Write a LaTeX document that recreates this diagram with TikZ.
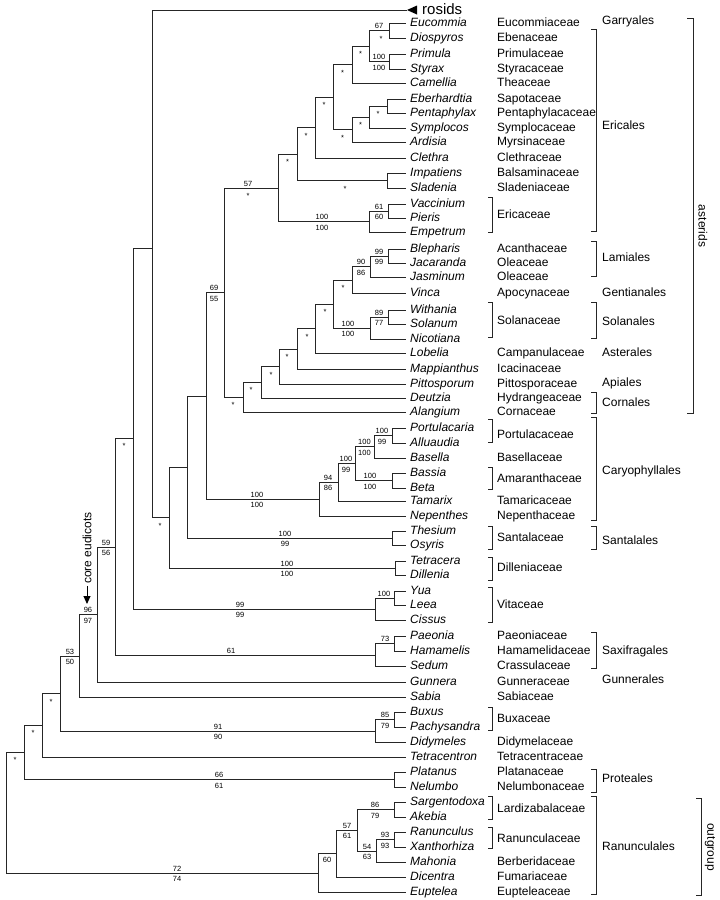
\documentclass[tikz,border=0pt]{standalone}
\usepackage{fontspec}
\setmainfont{Liberation Sans}
\usetikzlibrary{arrows.meta}
\tikzset{
    limb/.style={line width=0.9pt,black!85},
    taxon/.style={anchor=west,inner sep=0pt,inner xsep=4pt,text height=8.6pt,text depth=2.5pt,font=\fontsize{12}{14}\selectfont\itshape},
    fam/.style={anchor=west,inner sep=0pt,text height=8.6pt,text depth=2.5pt,font=\fontsize{12}{14}\selectfont},
    ordname/.style={anchor=west,inner sep=0pt,text height=8.6pt,text depth=2.5pt,font=\fontsize{12}{14}\selectfont},
    bs/.style={inner sep=0pt,font=\fontsize{7.5}{8}\selectfont},
}
\begin{document}
\begin{tikzpicture}[x=1pt,y=-1pt]
                        \useasboundingbox (0,0) rectangle (720,900);

                        \node[taxon] (eucommia) at (406,23) {Eucommia};
                        \node[taxon] (diospyros) at (406,38) {Diospyros};
                        \node[taxon] (primula) at (406,54) {Primula};
                        \node[taxon] (styrax) at (406,69) {Styrax};
                        \node[taxon] (camellia) at (406,83) {Camellia};
                        \node[taxon] (eberhardtia) at (406,99) {Eberhardtia};
                        \node[taxon] (pentaphylax) at (406,113) {Pentaphylax};
                        \node[taxon] (symplocos) at (406,128) {Symplocos};
                        \node[taxon] (ardisia) at (406,142) {Ardisia};
                        \node[taxon] (clethra) at (406,158) {Clethra};
                        \node[taxon] (impatiens) at (406,173) {Impatiens};
                        \node[taxon] (sladenia) at (406,188) {Sladenia};
                        \node[taxon] (vaccinium) at (406,204) {Vaccinium};
                        \node[taxon] (pieris) at (406,218) {Pieris};
                        \node[taxon] (empetrum) at (406,232) {Empetrum};
                        \node[taxon] (blepharis) at (406,249) {Blepharis};
                        \node[taxon] (jacaranda) at (406,263) {Jacaranda};
                        \node[taxon] (jasminum) at (406,277) {Jasminum};
                        \node[taxon] (vinca) at (406,293) {Vinca};
                        \node[taxon] (withania) at (406,310) {Withania};
                        \node[taxon] (solanum) at (406,324) {Solanum};
                        \node[taxon] (nicotiana) at (406,339) {Nicotiana};
                        \node[taxon] (lobelia) at (406,353) {Lobelia};
                        \node[taxon] (mappianthus) at (406,369) {Mappianthus};
                        \node[taxon] (pittosporum) at (406,384) {Pittosporum};
                        \node[taxon] (deutzia) at (406,398) {Deutzia};
                        \node[taxon] (alangium) at (406,412) {Alangium};
                        \node[taxon] (portulacaria) at (406,428) {Portulacaria};
                        \node[taxon] (alluaudia) at (406,443) {Alluaudia};
                        \node[taxon] (basella) at (406,458) {Basella};
                        \node[taxon] (bassia) at (406,473) {Bassia};
                        \node[taxon] (beta) at (406,488) {Beta};
                        \node[taxon] (tamarix) at (406,501) {Tamarix};
                        \node[taxon] (nepenthes) at (406,516) {Nepenthes};
                        \node[taxon] (thesium) at (406,531) {Thesium};
                        \node[taxon] (osyris) at (406,545) {Osyris};
                        \node[taxon] (tetracera) at (406,561) {Tetracera};
                        \node[taxon] (dillenia) at (406,575) {Dillenia};
                        \node[taxon] (yua) at (406,591) {Yua};
                        \node[taxon] (leea) at (406,605) {Leea};
                        \node[taxon] (cissus) at (406,620) {Cissus};
                        \node[taxon] (paeonia) at (406,636) {Paeonia};
                        \node[taxon] (hamamelis) at (406,651) {Hamamelis};
                        \node[taxon] (sedum) at (406,666) {Sedum};
                        \node[taxon] (gunnera) at (406,682) {Gunnera};
                        \node[taxon] (sabia) at (406,697) {Sabia};
                        \node[taxon] (buxus) at (406,712) {Buxus};
                        \node[taxon] (pachysandra) at (406,727) {Pachysandra};
                        \node[taxon] (didymeles) at (406,742) {Didymeles};
                        \node[taxon] (tetracentron) at (406,757) {Tetracentron};
                        \node[taxon] (platanus) at (406,772) {Platanus};
                        \node[taxon] (nelumbo) at (406,787) {Nelumbo};
                        \node[taxon] (sargentodoxa) at (406,802) {Sargentodoxa};
                        \node[taxon] (akebia) at (406,817) {Akebia};
                        \node[taxon] (ranunculus) at (406,832) {Ranunculus};
                        \node[taxon] (xanthorhiza) at (406,847) {Xanthorhiza};
                        \node[taxon] (mahonia) at (406,862) {Mahonia};
                        \node[taxon] (dicentra) at (406,877) {Dicentra};
                        \node[taxon] (euptelea) at (406,892) {Euptelea};

                        \coordinate (rosids) at (407,10);
                        \coordinate (n1) at (389,30.5);
                        \coordinate (n2) at (389,61.5);
                        \coordinate (n3) at (369,46);
                        \coordinate (n4) at (352,64.5);
                        \coordinate (n5) at (387,106);
                        \coordinate (n6) at (369,117);
                        \coordinate (n7) at (352,129.5);
                        \coordinate (n8) at (333,97);
                        \coordinate (n9) at (315,127.5);
                        \coordinate (n10) at (387,180.5);
                        \coordinate (n11) at (297,154);
                        \coordinate (n12) at (388,211);
                        \coordinate (n13) at (369,221.5);
                        \coordinate (n14) at (278,188);
                        \coordinate (n15) at (388,256);
                        \coordinate (n16) at (370,266.5);
                        \coordinate (n17) at (352,280);
                        \coordinate (n18) at (388,317);
                        \coordinate (n19) at (370,328);
                        \coordinate (n20) at (333,304);
                        \coordinate (n21) at (315,328.5);
                        \coordinate (n22) at (297,349);
                        \coordinate (n23) at (279,366.5);
                        \coordinate (n24) at (261,382);
                        \coordinate (n25) at (243,397);
                        \coordinate (n30) at (224,292.5);
                        \coordinate (c1) at (392,435.5);
                        \coordinate (c2) at (374,446.75);
                        \coordinate (c3) at (355,463.6);
                        \coordinate (c4) at (392,480.5);
                        \coordinate (c5) at (338,482.3);
                        \coordinate (c6) at (319,499);
                        \coordinate (n31) at (206,396);
                        \coordinate (s1) at (392,538);
                        \coordinate (n32) at (187,467);
                        \coordinate (d1) at (395,568);
                        \coordinate (n33) at (169,517.5);
                        \coordinate (n34) at (152,248);
                        \coordinate (v1) at (394,598);
                        \coordinate (v2) at (375,609);
                        \coordinate (n35) at (133,438);
                        \coordinate (x1) at (394,643.5);
                        \coordinate (x2) at (375,655);
                        \coordinate (n36) at (115,547);
                        \coordinate (n37) at (97,614.5);
                        \coordinate (n38) at (79,656);
                        \coordinate (b1) at (394,719.5);
                        \coordinate (b2) at (375,731);
                        \coordinate (n39) at (60,693.5);
                        \coordinate (n40) at (42,725);
                        \coordinate (p1) at (394,779.5);
                        \coordinate (n41) at (24,752);
                        \coordinate (r1) at (394,809.5);
                        \coordinate (r3) at (394,839.5);
                        \coordinate (r4) at (376,851);
                        \coordinate (r2) at (357,830);
                        \coordinate (r5) at (336,853.5);
                        \coordinate (r6) at (318,873);
                        \coordinate (root) at (6,812.5);

                        \draw[limb] (n1) |- (eucommia.west);
                        \draw[limb] (n1) |- (diospyros.west);
                        \draw[limb] (n2) |- (primula.west);
                        \draw[limb] (n2) |- (styrax.west);
                        \draw[limb] (n3) |- (n1);
                        \draw[limb] (n3) |- (n2);
                        \draw[limb] (n4) |- (n3);
                        \draw[limb] (n4) |- (camellia.west);
                        \draw[limb] (n5) |- (eberhardtia.west);
                        \draw[limb] (n5) |- (pentaphylax.west);
                        \draw[limb] (n6) |- (n5);
                        \draw[limb] (n6) |- (symplocos.west);
                        \draw[limb] (n7) |- (n6);
                        \draw[limb] (n7) |- (ardisia.west);
                        \draw[limb] (n8) |- (n4);
                        \draw[limb] (n8) |- (n7);
                        \draw[limb] (n9) |- (n8);
                        \draw[limb] (n9) |- (clethra.west);
                        \draw[limb] (n10) |- (impatiens.west);
                        \draw[limb] (n10) |- (sladenia.west);
                        \draw[limb] (n11) |- (n9);
                        \draw[limb] (n11) |- (n10);
                        \draw[limb] (n12) |- (vaccinium.west);
                        \draw[limb] (n12) |- (pieris.west);
                        \draw[limb] (n13) |- (n12);
                        \draw[limb] (n13) |- (empetrum.west);
                        \draw[limb] (n14) |- (n11);
                        \draw[limb] (n14) |- (n13);
                        \draw[limb] (n15) |- (blepharis.west);
                        \draw[limb] (n15) |- (jacaranda.west);
                        \draw[limb] (n16) |- (n15);
                        \draw[limb] (n16) |- (jasminum.west);
                        \draw[limb] (n17) |- (n16);
                        \draw[limb] (n17) |- (vinca.west);
                        \draw[limb] (n18) |- (withania.west);
                        \draw[limb] (n18) |- (solanum.west);
                        \draw[limb] (n19) |- (n18);
                        \draw[limb] (n19) |- (nicotiana.west);
                        \draw[limb] (n20) |- (n17);
                        \draw[limb] (n20) |- (n19);
                        \draw[limb] (n21) |- (n20);
                        \draw[limb] (n21) |- (lobelia.west);
                        \draw[limb] (n22) |- (n21);
                        \draw[limb] (n22) |- (mappianthus.west);
                        \draw[limb] (n23) |- (n22);
                        \draw[limb] (n23) |- (pittosporum.west);
                        \draw[limb] (n24) |- (n23);
                        \draw[limb] (n24) |- (deutzia.west);
                        \draw[limb] (n25) |- (n24);
                        \draw[limb] (n25) |- (alangium.west);
                        \draw[limb] (n30) |- (n14);
                        \draw[limb] (n30) |- (n25);
                        \draw[limb] (c1) |- (portulacaria.west);
                        \draw[limb] (c1) |- (alluaudia.west);
                        \draw[limb] (c2) |- (c1);
                        \draw[limb] (c2) |- (basella.west);
                        \draw[limb] (c4) |- (bassia.west);
                        \draw[limb] (c4) |- (beta.west);
                        \draw[limb] (c3) |- (c2);
                        \draw[limb] (c3) |- (c4);
                        \draw[limb] (c5) |- (c3);
                        \draw[limb] (c5) |- (tamarix.west);
                        \draw[limb] (c6) |- (c5);
                        \draw[limb] (c6) |- (nepenthes.west);
                        \draw[limb] (n31) |- (n30);
                        \draw[limb] (n31) |- (c6);
                        \draw[limb] (s1) |- (thesium.west);
                        \draw[limb] (s1) |- (osyris.west);
                        \draw[limb] (n32) |- (n31);
                        \draw[limb] (n32) |- (s1);
                        \draw[limb] (d1) |- (tetracera.west);
                        \draw[limb] (d1) |- (dillenia.west);
                        \draw[limb] (n33) |- (n32);
                        \draw[limb] (n33) |- (d1);
                        \draw[limb] (n34) |- (rosids);
                        \draw[limb] (n34) |- (n33);
                        \draw[limb] (v1) |- (yua.west);
                        \draw[limb] (v1) |- (leea.west);
                        \draw[limb] (v2) |- (v1);
                        \draw[limb] (v2) |- (cissus.west);
                        \draw[limb] (n35) |- (n34);
                        \draw[limb] (n35) |- (v2);
                        \draw[limb] (x1) |- (paeonia.west);
                        \draw[limb] (x1) |- (hamamelis.west);
                        \draw[limb] (x2) |- (x1);
                        \draw[limb] (x2) |- (sedum.west);
                        \draw[limb] (n36) |- (n35);
                        \draw[limb] (n36) |- (x2);
                        \draw[limb] (n37) |- (n36);
                        \draw[limb] (n37) |- (gunnera.west);
                        \draw[limb] (n38) |- (n37);
                        \draw[limb] (n38) |- (sabia.west);
                        \draw[limb] (b1) |- (buxus.west);
                        \draw[limb] (b1) |- (pachysandra.west);
                        \draw[limb] (b2) |- (b1);
                        \draw[limb] (b2) |- (didymeles.west);
                        \draw[limb] (n39) |- (n38);
                        \draw[limb] (n39) |- (b2);
                        \draw[limb] (n40) |- (n39);
                        \draw[limb] (n40) |- (tetracentron.west);
                        \draw[limb] (p1) |- (platanus.west);
                        \draw[limb] (p1) |- (nelumbo.west);
                        \draw[limb] (n41) |- (n40);
                        \draw[limb] (n41) |- (p1);
                        \draw[limb] (r1) |- (sargentodoxa.west);
                        \draw[limb] (r1) |- (akebia.west);
                        \draw[limb] (r3) |- (ranunculus.west);
                        \draw[limb] (r3) |- (xanthorhiza.west);
                        \draw[limb] (r4) |- (r3);
                        \draw[limb] (r4) |- (mahonia.west);
                        \draw[limb] (r2) |- (r1);
                        \draw[limb] (r2) |- (r4);
                        \draw[limb] (r5) |- (r2);
                        \draw[limb] (r5) |- (dicentra.west);
                        \draw[limb] (r6) |- (r5);
                        \draw[limb] (r6) |- (euptelea.west);
                        \draw[limb] (root) |- (n41);
                        \draw[limb] (root) |- (r6);

                        \fill (rosids) -- (417,5.5) -- (417,14.5) -- cycle;
                        \node[anchor=west,inner sep=0pt,font=\fontsize{15}{17}\selectfont] (rosidlab) at (422,9) {rosids};

                        \node[bs] (l1a) at (379,26) {67};
                        \node[bs] (l1b) at (381,38.5) {*};
                        \node[bs] (l2a) at (379,57) {100};
                        \node[bs] (l2b) at (379,67.5) {100};
                        \node[bs] (l3) at (360.5,54) {*};
                        \node[bs] (l4) at (342.5,72.5) {*};
                        \node[bs] (l5) at (378,114) {*};
                        \node[bs] (l6) at (360.5,125) {*};
                        \node[bs] (l7) at (342.5,137.5) {*};
                        \node[bs] (l8) at (324,105) {*};
                        \node[bs] (l9) at (306,135.5) {*};
                        \node[bs] (l10) at (345,188.5) {*};
                        \node[bs] (l11) at (287.5,162) {*};
                        \node[bs] (l12a) at (379,206.5) {61};
                        \node[bs] (l12b) at (379,217) {60};
                        \node[bs] (l13a) at (322,217) {100};
                        \node[bs] (l13b) at (322,227.5) {100};
                        \node[bs] (l14a) at (248,183.5) {57};
                        \node[bs] (l14b) at (248,196) {*};
                        \node[bs] (l15a) at (379,251.5) {99};
                        \node[bs] (l15b) at (379,262) {99};
                        \node[bs] (l16a) at (361,262) {90};
                        \node[bs] (l16b) at (361,272.5) {86};
                        \node[bs] (l17) at (343,288) {*};
                        \node[bs] (l18a) at (379,312.5) {89};
                        \node[bs] (l18b) at (379,323) {77};
                        \node[bs] (l19a) at (348,323.5) {100};
                        \node[bs] (l19b) at (348,334) {100};
                        \node[bs] (l20) at (325,312) {*};
                        \node[bs] (l21) at (307,336.5) {*};
                        \node[bs] (l22) at (287,357) {*};
                        \node[bs] (l23) at (271,374.5) {*};
                        \node[bs] (l24) at (251,390) {*};
                        \node[bs] (l25) at (233,405) {*};
                        \node[bs] (l30a) at (214,288) {69};
                        \node[bs] (l30b) at (214,298.5) {55};
                        \node[bs] (lc1a) at (382,431) {100};
                        \node[bs] (lc1b) at (382,441.5) {99};
                        \node[bs] (lc2a) at (364.5,442.2) {100};
                        \node[bs] (lc2b) at (364.5,452.7) {100};
                        \node[bs] (lc4a) at (370,476) {100};
                        \node[bs] (lc4b) at (370,486.5) {100};
                        \node[bs] (lc3a) at (346,459) {100};
                        \node[bs] (lc3b) at (346,469.6) {99};
                        \node[bs] (lc5a) at (328,477.8) {94};
                        \node[bs] (lc5b) at (328,488.3) {86};
                        \node[bs] (lc6a) at (257,494.5) {100};
                        \node[bs] (lc6b) at (257,505) {100};
                        \node[bs] (ls1a) at (285,533.5) {100};
                        \node[bs] (ls1b) at (285,544) {99};
                        \node[bs] (ld1a) at (287,563.5) {100};
                        \node[bs] (ld1b) at (287,574) {100};
                        \node[bs] (l33) at (160,525.5) {*};
                        \node[bs] (lv1) at (384,593.5) {100};
                        \node[bs] (lv2a) at (240,604.5) {99};
                        \node[bs] (lv2b) at (240,615) {99};
                        \node[bs] (l35) at (124,446) {*};
                        \node[bs] (lx1) at (385,639) {73};
                        \node[bs] (lx2) at (231,650.5) {61};
                        \node[bs] (l36a) at (106,542.5) {59};
                        \node[bs] (l36b) at (106,553) {56};
                        \node[bs] (l37a) at (88,610) {96};
                        \node[bs] (l37b) at (88,620.5) {97};
                        \node[bs] (l38a) at (70,651.5) {53};
                        \node[bs] (l38b) at (70,662) {50};
                        \node[bs] (lb1a) at (385,715) {85};
                        \node[bs] (lb1b) at (385,725.5) {79};
                        \node[bs] (lb2a) at (218,726.5) {91};
                        \node[bs] (lb2b) at (218,737) {90};
                        \node[bs] (l39) at (51,701.5) {*};
                        \node[bs] (l40) at (33,733) {*};
                        \node[bs] (lp1a) at (219,775) {66};
                        \node[bs] (lp1b) at (219,785.5) {61};
                        \node[bs] (l41) at (15,760) {*};
                        \node[bs] (lr1a) at (375,805) {86};
                        \node[bs] (lr1b) at (375,815.5) {79};
                        \node[bs] (lr3a) at (385,835) {93};
                        \node[bs] (lr3b) at (385,845.5) {93};
                        \node[bs] (lr4a) at (367,846.5) {54};
                        \node[bs] (lr4b) at (367,857) {63};
                        \node[bs] (lr2a) at (347,825.5) {57};
                        \node[bs] (lr2b) at (347,836) {61};
                        \node[bs] (lr5) at (327,859.5) {60};
                        \node[bs] (lr6a) at (177,868.5) {72};
                        \node[bs] (lr6b) at (177,879) {74};

                        \node[rotate=90,inner sep=2pt,font=\fontsize{12}{14}\selectfont] (coreeu) at (87,548) {core eudicots};
                        \coordinate (cetip) at (87,604);
                        \draw[line width=1pt,-{Triangle[length=8pt,width=7pt]}] (coreeu.west) -- (cetip);

                        \node[fam] (eucommiaceae) at (497,23) {Eucommiaceae};
                        \node[fam] (ebenaceae) at (497,38) {Ebenaceae};
                        \node[fam] (primulaceae) at (497,54) {Primulaceae};
                        \node[fam] (styracaceae) at (497,69) {Styracaceae};
                        \node[fam] (theaceae) at (497,83) {Theaceae};
                        \node[fam] (sapotaceae) at (497,99) {Sapotaceae};
                        \node[fam] (pentaphylacaceae) at (497,113) {Pentaphylacaceae};
                        \node[fam] (symplocaceae) at (497,128) {Symplocaceae};
                        \node[fam] (myrsinaceae) at (497,142) {Myrsinaceae};
                        \node[fam] (clethraceae) at (497,158) {Clethraceae};
                        \node[fam] (balsaminaceae) at (497,173) {Balsaminaceae};
                        \node[fam] (sladeniaceae) at (497,188) {Sladeniaceae};
                        \node[fam] (ericaceae) at (497,215) {Ericaceae};
                        \node[fam] (acanthaceae) at (497,249) {Acanthaceae};
                        \node[fam] (oleaceaea) at (497,263) {Oleaceae};
                        \node[fam] (oleaceaeb) at (497,277) {Oleaceae};
                        \node[fam] (apocynaceae) at (497,293) {Apocynaceae};
                        \node[fam] (solanaceae) at (497,321) {Solanaceae};
                        \node[fam] (campanulaceae) at (497,353) {Campanulaceae};
                        \node[fam] (icacinaceae) at (497,369) {Icacinaceae};
                        \node[fam] (pittosporaceae) at (497,384) {Pittosporaceae};
                        \node[fam] (hydrangeaceae) at (497,398) {Hydrangeaceae};
                        \node[fam] (cornaceae) at (497,412) {Cornaceae};
                        \node[fam] (portulacaceae) at (497,435) {Portulacaceae};
                        \node[fam] (basellaceae) at (497,458) {Basellaceae};
                        \node[fam] (amaranthaceae) at (497,479) {Amaranthaceae};
                        \node[fam] (tamaricaceae) at (497,501) {Tamaricaceae};
                        \node[fam] (nepenthaceae) at (497,516) {Nepenthaceae};
                        \node[fam] (santalaceae) at (497,538) {Santalaceae};
                        \node[fam] (dilleniaceae) at (497,568) {Dilleniaceae};
                        \node[fam] (vitaceae) at (497,605) {Vitaceae};
                        \node[fam] (paeoniaceae) at (497,636) {Paeoniaceae};
                        \node[fam] (hamamelidaceae) at (497,651) {Hamamelidaceae};
                        \node[fam] (crassulaceae) at (497,666) {Crassulaceae};
                        \node[fam] (gunneraceae) at (497,682) {Gunneraceae};
                        \node[fam] (sabiaceae) at (497,697) {Sabiaceae};
                        \node[fam] (buxaceae) at (497,719) {Buxaceae};
                        \node[fam] (didymelaceae) at (497,742) {Didymelaceae};
                        \node[fam] (tetracentraceae) at (497,757) {Tetracentraceae};
                        \node[fam] (platanaceae) at (497,772) {Platanaceae};
                        \node[fam] (nelumbonaceae) at (497,787) {Nelumbonaceae};
                        \node[fam] (lardizabalaceae) at (497,809) {Lardizabalaceae};
                        \node[fam] (ranunculaceae) at (497,839) {Ranunculaceae};
                        \node[fam] (berberidaceae) at (497,862) {Berberidaceae};
                        \node[fam] (fumariaceae) at (497,877) {Fumariaceae};
                        \node[fam] (eupteleaceae) at (497,892) {Eupteleaceae};

                        \draw[limb] (488,197) -- (492,197) -- (492,232) -- (488,232);
                        \draw[limb] (488,302) -- (492,302) -- (492,337) -- (488,337);
                        \draw[limb] (488,419) -- (492,419) -- (492,442) -- (488,442);
                        \draw[limb] (488,467) -- (492,467) -- (492,489) -- (488,489);
                        \draw[limb] (488,526) -- (492,526) -- (492,549) -- (488,549);
                        \draw[limb] (488,557) -- (492,557) -- (492,580) -- (488,580);
                        \draw[limb] (488,587) -- (492,587) -- (492,622) -- (488,622);
                        \draw[limb] (488,707) -- (492,707) -- (492,730) -- (488,730);
                        \draw[limb] (488,796) -- (492,796) -- (492,819) -- (488,819);
                        \draw[limb] (488,827) -- (492,827) -- (492,848) -- (488,848);

                        \node[ordname] (garryales) at (602,21) {Garryales};
                        \node[ordname] (ericales) at (602,126) {Ericales};
                        \node[ordname] (lamiales) at (602,258) {Lamiales};
                        \node[ordname] (gentianales) at (602,293) {Gentianales};
                        \node[ordname] (solanales) at (602,322) {Solanales};
                        \node[ordname] (asterales) at (602,353) {Asterales};
                        \node[ordname] (apiales) at (602,383) {Apiales};
                        \node[ordname] (cornales) at (602,403) {Cornales};
                        \node[ordname] (caryophyllales) at (602,471) {Caryophyllales};
                        \node[ordname] (santalales) at (602,541) {Santalales};
                        \node[ordname] (saxifragales) at (602,651) {Saxifragales};
                        \node[ordname] (gunnerales) at (602,680) {Gunnerales};
                        \node[ordname] (proteales) at (602,779) {Proteales};
                        \node[ordname] (ranunculales) at (602,847) {Ranunculales};

                        \draw[limb] (591,29) -- (596,29) -- (596,231) -- (591,231);
                        \draw[limb] (591,241) -- (596,241) -- (596,276) -- (591,276);
                        \draw[limb] (591,302) -- (596,302) -- (596,338) -- (591,338);
                        \draw[limb] (591,392) -- (596,392) -- (596,413) -- (591,413);
                        \draw[limb] (591,417) -- (596,417) -- (596,520) -- (591,520);
                        \draw[limb] (591,526) -- (596,526) -- (596,549) -- (591,549);
                        \draw[limb] (591,632) -- (596,632) -- (596,668) -- (591,668);
                        \draw[limb] (591,769) -- (596,769) -- (596,792) -- (591,792);
                        \draw[limb] (591,796) -- (596,796) -- (596,894) -- (591,894);

                        \draw[limb] (687,18) -- (693,18) -- (693,413) -- (687,413);
                        \node[rotate=-90,inner sep=0pt,font=\fontsize{12}{14}\selectfont] (asterids) at (703,226) {asterids};
                        \draw[limb] (696,798) -- (701,798) -- (701,895) -- (696,895);
                        \node[rotate=-90,inner sep=0pt,font=\fontsize{12}{14}\selectfont] (outgroup) at (710,847) {outgroup};
                    \end{tikzpicture}
\end{document}
